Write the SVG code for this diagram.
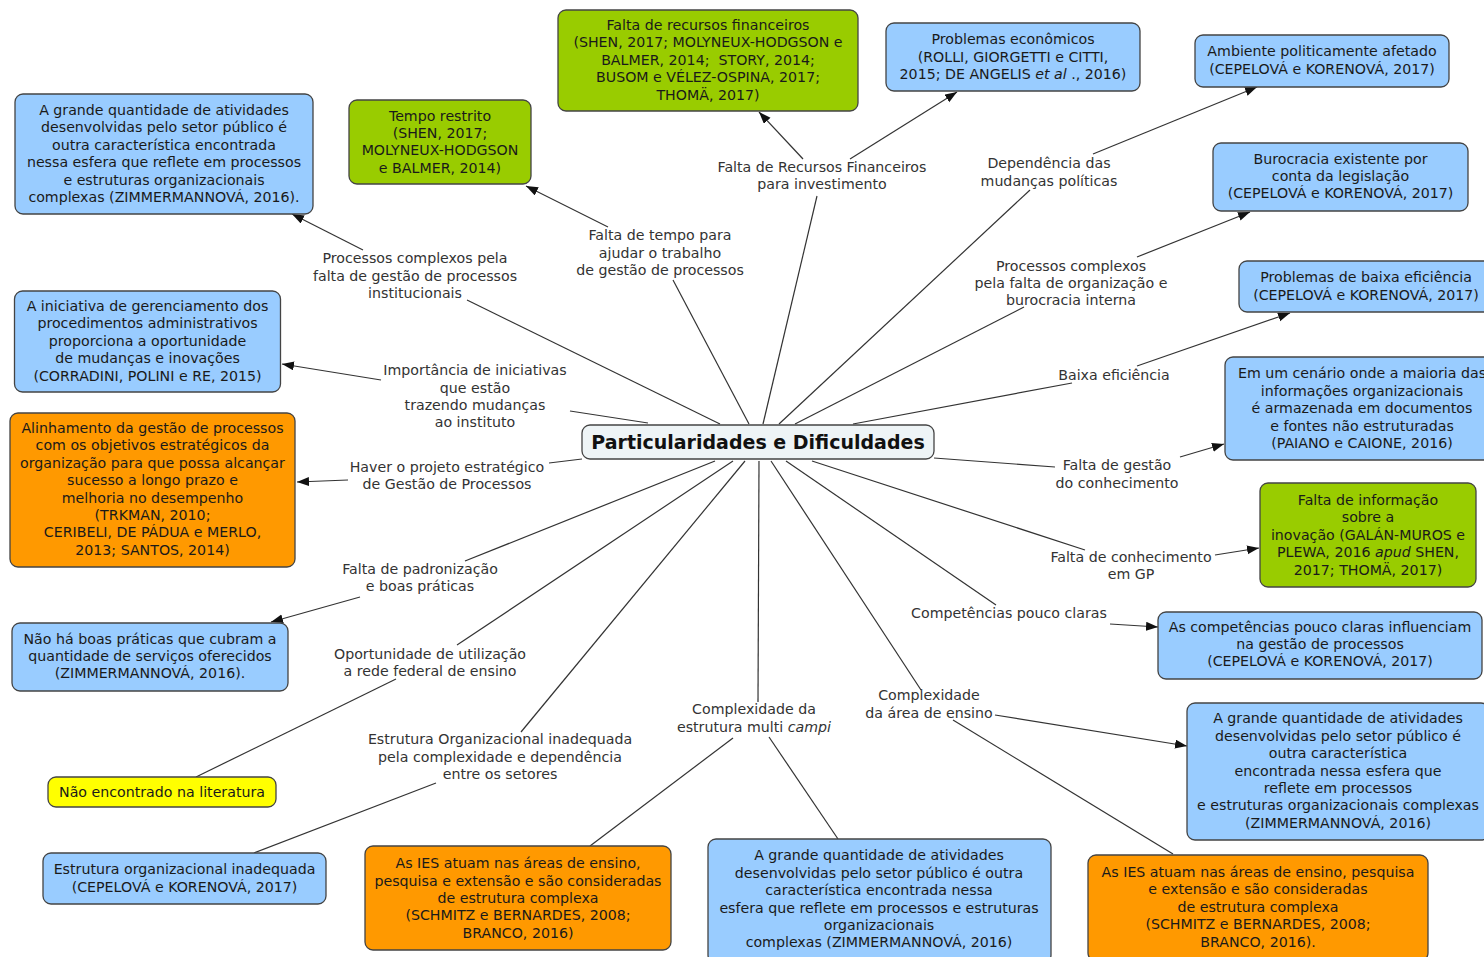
<svg xmlns="http://www.w3.org/2000/svg" width="1484" height="957" viewBox="0 0 1484 957">
<style>
.bx{stroke:#444;stroke-width:1.3}
.blue{fill:#99ccff}.green{fill:#99cc00}.orange{fill:#ff9900}.yellow{fill:#ffff00}.center{fill:#eef4f6}
text{font-family:"DejaVu Sans",Verdana,sans-serif;font-size:14.2px;text-anchor:middle}
.t{fill:#1a1a1a}.l{fill:#333}
.title{font-weight:bold;font-size:19px;fill:#111}
.c line{stroke:#333;stroke-width:1.2}
.a{marker-end:url(#arr)}
.i{font-style:italic}
</style>
<defs>
<marker id="arr" markerUnits="userSpaceOnUse" markerWidth="13" markerHeight="10" refX="12" refY="4.5" orient="auto">
<path d="M0,0 L12,4.5 L0,9 z" fill="#111"/>
</marker>
</defs>
<g id="connectors" class="c">
<line x1="720" y1="424" x2="467" y2="300"/>
<line x1="648" y1="423" x2="570" y2="411"/>
<line x1="749" y1="424" x2="673" y2="280"/>
<line x1="763" y1="424" x2="817" y2="196"/>
<line x1="779" y1="424" x2="1030" y2="190"/>
<line x1="795" y1="424" x2="1024" y2="307"/>
<line x1="853" y1="424" x2="1072" y2="383"/>
<line x1="934" y1="458" x2="1055" y2="467"/>
<line x1="812" y1="461" x2="1085" y2="550"/>
<line x1="786" y1="461" x2="996" y2="605"/>
<line x1="771" y1="461" x2="921" y2="690"/>
<line x1="759" y1="461" x2="758" y2="702"/>
<line x1="745" y1="461" x2="521" y2="732"/>
<line x1="733" y1="461" x2="457" y2="645"/>
<line x1="715" y1="461" x2="465" y2="561"/>
<line x1="582" y1="459" x2="549" y2="463"/>
<line class="a" x1="363" y1="250" x2="292" y2="214"/>
<line class="a" x1="608" y1="227" x2="526" y2="186"/>
<line class="a" x1="803" y1="159" x2="759" y2="112"/>
<line class="a" x1="850" y1="159" x2="957" y2="92"/>
<line class="a" x1="1093" y1="154" x2="1257" y2="87"/>
<line class="a" x1="1137" y1="257" x2="1250" y2="212"/>
<line class="a" x1="1137" y1="366" x2="1290" y2="313"/>
<line class="a" x1="381" y1="380" x2="282" y2="364"/>
<line class="a" x1="348" y1="480" x2="297" y2="482"/>
<line class="a" x1="1180" y1="457" x2="1224" y2="444"/>
<line class="a" x1="1215" y1="555" x2="1259" y2="548"/>
<line class="a" x1="360" y1="597" x2="271" y2="622"/>
<line class="a" x1="1110" y1="624" x2="1158" y2="627"/>
<line class="a" x1="995" y1="715" x2="1187" y2="746"/>
<line x1="953" y1="720" x2="1173" y2="854"/>
<line x1="733" y1="738" x2="590" y2="846"/>
<line x1="769" y1="737" x2="838" y2="839"/>
<line x1="396" y1="679" x2="196" y2="777"/>
<line x1="436" y1="783" x2="254" y2="853"/>
</g>
<g id="labels">
<g id="lbl-processos-complexos"><text class="l" x="415"><tspan x="415" y="262.7">Processos complexos pela</tspan><tspan x="415" y="280.7">falta de gestão de processos</tspan><tspan x="415" y="298">institucionais</tspan></text></g>
<g id="lbl-falta-tempo"><text class="l" x="660"><tspan x="660" y="240.3">Falta de tempo para</tspan><tspan x="660" y="257.7">ajudar o trabalho</tspan><tspan x="660" y="275">de gestão de processos</tspan></text></g>
<g id="lbl-falta-recursos"><text class="l" x="822"><tspan x="822" y="171.7">Falta de Recursos Financeiros</tspan><tspan x="822" y="189.3">para investimento</tspan></text></g>
<g id="lbl-dependencia"><text class="l" x="1049"><tspan x="1049" y="168.3">Dependência das</tspan><tspan x="1049" y="186">mudanças políticas</tspan></text></g>
<g id="lbl-processos-burocracia"><text class="l" x="1071"><tspan x="1071" y="270.7">Processos complexos</tspan><tspan x="1071" y="288">pela falta de organização e</tspan><tspan x="1071" y="305.3">burocracia interna</tspan></text></g>
<g id="lbl-baixa-eficiencia"><text class="l" x="1114" y="379.7">Baixa eficiência</text></g>
<g id="lbl-importancia"><text class="l" x="475"><tspan x="475" y="375">Importância de iniciativas</tspan><tspan x="475" y="392.7">que estão</tspan><tspan x="475" y="410">trazendo mudanças</tspan><tspan x="475" y="427.3">ao instituto</tspan></text></g>
<g id="lbl-haver-projeto"><text class="l" x="447"><tspan x="447" y="471.7">Haver o projeto estratégico</tspan><tspan x="447" y="489">de Gestão de Processos</tspan></text></g>
<g id="lbl-gestao-conhecimento"><text class="l" x="1117"><tspan x="1117" y="470">Falta de gestão</tspan><tspan x="1117" y="487.7">do conhecimento</tspan></text></g>
<g id="lbl-conhecimento-gp"><text class="l" x="1131"><tspan x="1131" y="561.7">Falta de conhecimento</tspan><tspan x="1131" y="579.3">em GP</tspan></text></g>
<g id="lbl-padronizacao"><text class="l" x="420"><tspan x="420" y="574">Falta de padronização</tspan><tspan x="420" y="591">e boas práticas</tspan></text></g>
<g id="lbl-competencias"><text class="l" x="1009" y="618.3">Competências pouco claras</text></g>
<g id="lbl-oportunidade"><text class="l" x="430"><tspan x="430" y="659">Oportunidade de utilização</tspan><tspan x="430" y="676">a rede federal de ensino</tspan></text></g>
<g id="lbl-complexidade-ensino"><text class="l" x="929"><tspan x="929" y="700">Complexidade</tspan><tspan x="929" y="717.7">da área de ensino</tspan></text></g>
<g id="lbl-multi-campi"><text class="l" x="754"><tspan x="754" y="714.3">Complexidade da</tspan><tspan x="754" y="732">estrutura multi <tspan class="i">campi</tspan></tspan></text></g>
<g id="lbl-estrutura-inadequada"><text class="l" x="500"><tspan x="500" y="744.3">Estrutura Organizacional inadequada</tspan><tspan x="500" y="761.7">pela complexidade e dependência</tspan><tspan x="500" y="779">entre os setores</tspan></text></g>
</g>
<g id="center">
<rect class="bx center" x="582" y="425" width="352" height="34" rx="8"/>
<text class="title" x="758" y="449">Particularidades e Dificuldades</text>
</g>
<g id="n-zimmer-1">
<rect class="bx blue" x="15" y="94" width="298" height="120" rx="8"/>
<text class="t" x="164"><tspan x="164" y="115">A grande quantidade de atividades</tspan><tspan x="164" y="132.3">desenvolvidas pelo setor público é</tspan><tspan x="164" y="150">outra característica encontrada</tspan><tspan x="164" y="167.3">nessa esfera que reflete em processos</tspan><tspan x="164" y="185">e estruturas organizacionais</tspan><tspan x="164" y="202.3">complexas (ZIMMERMANNOVÁ, 2016).</tspan></text>
</g>
<g id="n-tempo-restrito">
<rect class="bx green" x="349" y="100" width="182" height="84" rx="8"/>
<text class="t" x="440"><tspan x="440" y="120.7">Tempo restrito</tspan><tspan x="440" y="138">(SHEN, 2017;</tspan><tspan x="440" y="155.3">MOLYNEUX-HODGSON</tspan><tspan x="440" y="172.7">e BALMER, 2014)</tspan></text>
</g>
<g id="n-recursos">
<rect class="bx green" x="558" y="10" width="300" height="101" rx="8"/>
<text class="t" x="708" xml:space="preserve"><tspan x="708" y="30">Falta de recursos financeiros</tspan><tspan x="708" y="47.3">(SHEN, 2017; MOLYNEUX-HODGSON e</tspan><tspan x="708" y="65">BALMER, 2014;  STORY, 2014;</tspan><tspan x="708" y="82.3">BUSOM e VÉLEZ-OSPINA, 2017;</tspan><tspan x="708" y="99.7">THOMÄ, 2017)</tspan></text>
</g>
<g id="n-economicos">
<rect class="bx blue" x="886" y="23" width="254" height="68" rx="8"/>
<text class="t" x="1013"><tspan x="1013" y="44">Problemas econômicos</tspan><tspan x="1013" y="61.7">(ROLLI, GIORGETTI e CITTI,</tspan><tspan x="1013" y="78.7">2015; DE ANGELIS <tspan class="i">et al</tspan> ., 2016)</tspan></text>
</g>
<g id="n-ambiente">
<rect class="bx blue" x="1195" y="35" width="254" height="52" rx="8"/>
<text class="t" x="1322"><tspan x="1322" y="56">Ambiente politicamente afetado</tspan><tspan x="1322" y="74">(CEPELOVÁ e KORENOVÁ, 2017)</tspan></text>
</g>
<g id="n-burocracia">
<rect class="bx blue" x="1213" y="143" width="255" height="68" rx="8"/>
<text class="t" x="1340.5"><tspan x="1340.5" y="163.7">Burocracia existente por</tspan><tspan x="1340.5" y="181">conta da legislação</tspan><tspan x="1340.5" y="198.3">(CEPELOVÁ e KORENOVÁ, 2017)</tspan></text>
</g>
<g id="n-baixa-eficiencia">
<rect class="bx blue" x="1239" y="261" width="255" height="51" rx="8"/>
<text class="t" x="1366"><tspan x="1366" y="282.3">Problemas de baixa eficiência</tspan><tspan x="1366" y="300">(CEPELOVÁ e KORENOVÁ, 2017)</tspan></text>
</g>
<g id="n-paiano">
<rect class="bx blue" x="1225" y="357" width="274" height="103" rx="8"/>
<text class="t" x="1362"><tspan x="1362" y="378">Em um cenário onde a maioria das</tspan><tspan x="1362" y="395.7">informações organizacionais</tspan><tspan x="1362" y="413">é armazenada em documentos</tspan><tspan x="1362" y="430.7">e fontes não estruturadas</tspan><tspan x="1362" y="448">(PAIANO e CAIONE, 2016)</tspan></text>
</g>
<g id="n-inovacao">
<rect class="bx green" x="1260" y="483" width="216" height="104" rx="8"/>
<text class="t" x="1368"><tspan x="1368" y="505">Falta de informação</tspan><tspan x="1368" y="522">sobre a</tspan><tspan x="1368" y="540">inovação (GALÁN-MUROS e</tspan><tspan x="1368" y="557">PLEWA, 2016 <tspan class="i">apud</tspan> SHEN,</tspan><tspan x="1368" y="575">2017; THOMÄ, 2017)</tspan></text>
</g>
<g id="n-competencias">
<rect class="bx blue" x="1158" y="612" width="324" height="67" rx="8"/>
<text class="t" x="1320"><tspan x="1320" y="631.7">As competências pouco claras influenciam</tspan><tspan x="1320" y="649">na gestão de processos</tspan><tspan x="1320" y="666">(CEPELOVÁ e KORENOVÁ, 2017)</tspan></text>
</g>
<g id="n-zimmer-2">
<rect class="bx blue" x="1187" y="703" width="302" height="137" rx="8"/>
<text class="t" x="1338"><tspan x="1338" y="723">A grande quantidade de atividades</tspan><tspan x="1338" y="740.7">desenvolvidas pelo setor público é</tspan><tspan x="1338" y="758">outra característica</tspan><tspan x="1338" y="775.7">encontrada nessa esfera que</tspan><tspan x="1338" y="793">reflete em processos</tspan><tspan x="1338" y="810.3">e estruturas organizacionais complexas</tspan><tspan x="1338" y="828">(ZIMMERMANNOVÁ, 2016)</tspan></text>
</g>
<g id="n-ies-2">
<rect class="bx orange" x="1088" y="855" width="340" height="106" rx="8"/>
<text class="t" x="1258"><tspan x="1258" y="876.7">As IES atuam nas áreas de ensino, pesquisa</tspan><tspan x="1258" y="894">e extensão e são consideradas</tspan><tspan x="1258" y="911.7">de estrutura complexa</tspan><tspan x="1258" y="929">(SCHMITZ e BERNARDES, 2008;</tspan><tspan x="1258" y="946.7">BRANCO, 2016).</tspan></text>
</g>
<g id="n-zimmer-3">
<rect class="bx blue" x="708" y="839" width="343" height="124" rx="8"/>
<text class="t" x="879"><tspan x="879" y="860">A grande quantidade de atividades</tspan><tspan x="879" y="877.7">desenvolvidas pelo setor público é outra</tspan><tspan x="879" y="895">característica encontrada nessa</tspan><tspan x="879" y="912.7">esfera que reflete em processos e estruturas</tspan><tspan x="879" y="930">organizacionais</tspan><tspan x="879" y="947.3">complexas (ZIMMERMANNOVÁ, 2016)</tspan></text>
</g>
<g id="n-ies-1">
<rect class="bx orange" x="365" y="846" width="306" height="104" rx="8"/>
<text class="t" x="518"><tspan x="518" y="868.3">As IES atuam nas áreas de ensino,</tspan><tspan x="518" y="885.7">pesquisa e extensão e são consideradas</tspan><tspan x="518" y="902.7">de estrutura complexa</tspan><tspan x="518" y="920">(SCHMITZ e BERNARDES, 2008;</tspan><tspan x="518" y="937.7">BRANCO, 2016)</tspan></text>
</g>
<g id="n-estrutura">
<rect class="bx blue" x="43" y="853" width="283" height="51" rx="8"/>
<text class="t" x="184.5"><tspan x="184.5" y="874.3">Estrutura organizacional inadequada</tspan><tspan x="184.5" y="891.7">(CEPELOVÁ e KORENOVÁ, 2017)</tspan></text>
</g>
<g id="n-nao-encontrado">
<rect class="bx yellow" x="48" y="777" width="228" height="30" rx="8"/>
<text class="t" x="162" y="797.3">Não encontrado na literatura</text>
</g>
<g id="n-boas-praticas">
<rect class="bx blue" x="12" y="623" width="276" height="68" rx="8"/>
<text class="t" x="150"><tspan x="150" y="644">Não há boas práticas que cubram a</tspan><tspan x="150" y="661.3">quantidade de serviços oferecidos</tspan><tspan x="150" y="678.3">(ZIMMERMANNOVÁ, 2016).</tspan></text>
</g>
<g id="n-alinhamento">
<rect class="bx orange" x="10" y="413" width="285" height="154" rx="8"/>
<text class="t" x="152.5"><tspan x="152.5" y="433">Alinhamento da gestão de processos</tspan><tspan x="152.5" y="450.3">com os objetivos estratégicos da</tspan><tspan x="152.5" y="468">organização para que possa alcançar</tspan><tspan x="152.5" y="485.3">sucesso a longo prazo e</tspan><tspan x="152.5" y="502.7">melhoria no desempenho</tspan><tspan x="152.5" y="520">(TRKMAN, 2010;</tspan><tspan x="152.5" y="537.3">CERIBELI, DE PÁDUA e MERLO,</tspan><tspan x="152.5" y="555">2013; SANTOS, 2014)</tspan></text>
</g>
<g id="n-iniciativa">
<rect class="bx blue" x="14.5" y="291" width="266" height="101" rx="8"/>
<text class="t" x="147.5"><tspan x="147.5" y="311">A iniciativa de gerenciamento dos</tspan><tspan x="147.5" y="328.3">procedimentos administrativos</tspan><tspan x="147.5" y="345.7">proporciona a oportunidade</tspan><tspan x="147.5" y="363">de mudanças e inovações</tspan><tspan x="147.5" y="380.7">(CORRADINI, POLINI e RE, 2015)</tspan></text>
</g>
</svg>
